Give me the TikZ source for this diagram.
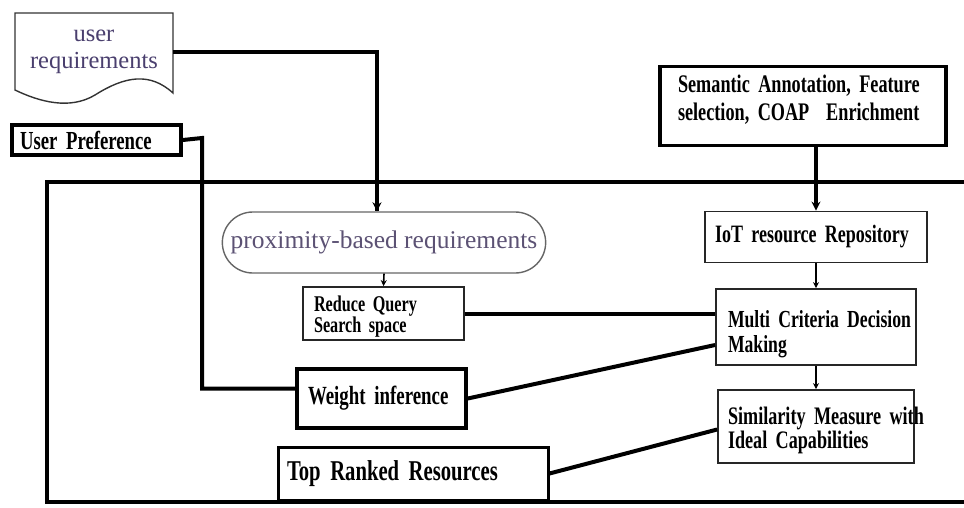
\documentclass[tikz,border=0pt]{standalone}
\usepackage{fontspec}
\setmainfont{Liberation Serif}
\newfontfamily\lbl[FakeStretch=0.72,WordSpace=0.65]{Liberation Serif}
\usetikzlibrary{arrows.meta,calc,shapes.misc}
\definecolor{docink}{HTML}{4A3F6E}
\definecolor{proxink}{HTML}{5C5274}
\tikzset{
  heavy/.style={line width=4pt},
  light/.style={line width=1.6pt},
  tip/.style={-{Stealth[length=9pt,width=9pt]}},
  smalltip/.style={-{Stealth[length=6pt,width=6pt]}},
  bbox/.style={draw, line width=3.5pt, rectangle, inner ysep=0pt, align=left},
  tbox/.style={draw, line width=1.8pt, draw=black!85, rectangle, inner ysep=0pt, align=left},
  fs/.style 2 args={font=\lbl\bfseries\fontsize{#1}{#2}\selectfont},
}
\begin{document}
\begin{tikzpicture}[x=1pt,y=-1pt]
\useasboundingbox (0,0) rectangle (964,507);
% frame
\draw[heavy] (964,182) -- (47,182) -- (47,502) -- (964,502);

% user requirements document
\node[minimum width=158pt, minimum height=84pt, inner sep=0pt, align=center,
      text=docink, font=\fontsize{24.5}{27}\selectfont] (ur) at (94,52) {user\\requirements};
\draw[line width=1.4pt, draw=black!80] (15,90) -- (15,13) -- (173,13) -- (173,93)
  .. controls (150,72) and (125,76) .. (95,95) .. controls (70,110) and (40,102) .. (15,90) -- cycle;

% boxes
\node[bbox, fs={26}{28}, text width=153pt, inner xsep=8pt, minimum height=30pt] (up) at (96.5,140) {\mbox{User Preference}};
\node[bbox, fs={25.3}{28}, text width=250pt, inner xsep=18pt, minimum height=79pt] (sem) at (803,106)
  {\mbox{Semantic Annotation, Feature}\\\mbox{selection, COAP\ \ Enrichment}\rule[-16pt]{0pt}{16pt}};
\node[tbox, fs={25}{26}, text width=202pt, inner xsep=10pt, minimum height=51pt] (iot) at (816,237) {\mbox{IoT resource Repository}};
\node[tbox, fs={24.5}{25}, text width=176pt, inner xsep=12pt, minimum height=76pt] (mcdm) at (816,327)
  {\rule{0pt}{32pt}\mbox{Multi Criteria Decision}\\\mbox{Making}};
\node[tbox, fs={25.2}{24}, text width=176pt, inner xsep=10pt, minimum height=73pt] (sim) at (816,426.5)
  {\rule{0pt}{25pt}\mbox{Similarity Measure with}\\\mbox{Ideal Capabilities}};
\node[rounded rectangle, draw=black!60, line width=1.4pt, minimum width=330pt, minimum height=61pt,
      text=proxink, font=\fontsize{25.5}{27}\selectfont] (prox) at (384,242.5) {proximity-based requirements};
\node[tbox, fs={22.5}{21}, text width=139pt, inner xsep=11pt, minimum height=53pt] (rq) at (383.5,313.5)
  {\rule{0pt}{22pt}\mbox{Reduce Query}\\\mbox{Search space}};
\node[bbox, fs={26.2}{28}, text width=147pt, inner xsep=11pt, minimum height=59pt] (wi) at (381.5,398.5) {\mbox{Weight inference}};
\node[bbox, line width=3pt, fs={28.7}{30}, text width=252pt, inner xsep=9pt, minimum height=53pt] (top) at (413,473.5)
  {\mbox{Top Ranked Resources}};

% connectors
\coordinate (c1) at (202,138);
\draw[heavy] (ur.east) -| ([xshift=-7pt]prox.north);
\draw[heavy, tip] ([xshift=-7pt,yshift=14pt]prox.north) -- ([xshift=-7pt]prox.north);
\draw[heavy] (up.east) -- (c1) |- ([yshift=10pt]wi.west);
\draw[heavy, tip] (sem.south -| iot.north) -- (iot.north);
\draw[light, smalltip] (prox.south) -- (rq.north);
\draw[heavy] (rq.east) -- (rq.east -| mcdm.west);
\draw[heavy] (wi.east) -- ([yshift=-18pt]mcdm.west);
\draw[heavy] (top.east) -- ([yshift=-3pt]sim.west);
\draw[light, smalltip] (iot.south) -- (mcdm.north);
\draw[light, smalltip] (mcdm.south) -- (sim.north);
\end{tikzpicture}
\end{document}
